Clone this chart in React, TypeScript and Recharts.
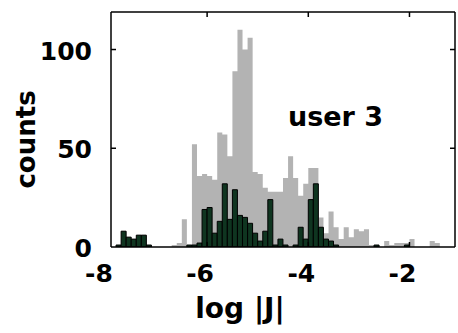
import React from "react"
import { ComposedChart, Area, Bar, XAxis, YAxis, Label } from "recharts"

// histogram bins of log|J|, width 0.1, given by their centres
const binCenters = [
  -7.85, -7.75, -7.65, -7.55, -7.45, -7.35, -7.25, -7.15, -7.05, -6.95,
  -6.85, -6.75, -6.65, -6.55, -6.45, -6.35, -6.25, -6.15, -6.05, -5.95,
  -5.85, -5.75, -5.65, -5.55, -5.45, -5.35, -5.25, -5.15, -5.05, -4.95,
  -4.85, -4.75, -4.65, -4.55, -4.45, -4.35, -4.25, -4.15, -4.05, -3.95,
  -3.85, -3.75, -3.65, -3.55, -3.45, -3.35, -3.25, -3.15, -3.05, -2.95,
  -2.85, -2.75, -2.65, -2.55, -2.45, -2.35, -2.25, -2.15, -2.05, -1.95,
  -1.85, -1.75, -1.65, -1.55, -1.45, -1.35,
]

// all pairs (light gray)
const allCounts = [
  0, 1, 8, 5, 4, 6, 6, 1, 0, 0,
  0, 0, 1, 2, 14, 1, 52, 36, 37, 36,
  34, 58, 57, 46, 89, 110, 100, 106, 38, 37,
  30, 28, 28, 28, 35, 46, 35, 26, 32, 40,
  40, 15, 7, 18, 10, 4, 10, 5, 9, 8,
  9, 1, 0, 0, 3, 1, 2, 2, 2, 4,
  0, 0, 0, 3, 2, 0,
]

// user 3 (dark green)
const userCounts = [
  0, 1, 8, 5, 4, 6, 6, 1, 0, 0,
  0, 0, 0, 0, 0, 1, 1, 2, 19, 20,
  7, 13, 32, 14, 29, 16, 15, 12, 7, 3,
  8, 24, 1, 4, 1, 0, 1, 10, 4, 24,
  32, 10, 4, 3, 1, 0, 0, 0, 0, 0,
  0, 0, 1, 0, 0, 0, 0, 0, 1, 0,
  0, 0, 0, 0, 0, 0,
]

const xTicks = [-8, -6, -4, -2]
const yTicks = [0, 50, 100]
const X_DOMAIN = [-7.9, -1.1]
const Y_DOMAIN = [0, 119]

const rows = binCenters.map((x, i) => ({ x, all: allCounts[i], user: userCounts[i] }))

const FONT = "'DejaVu Sans', 'Liberation Sans', sans-serif"

const BottomTick = ({ x, y, payload }: any) => (
  <g>
    {payload.value > X_DOMAIN[0] && (
      <line x1={x} x2={x} y1={y} y2={y - 5} stroke="#000" strokeWidth={1.5} />
    )}
    <text x={x - 7} y={y + 35} textAnchor="middle" fontFamily={FONT} fontWeight="bold" fontSize={25} fill="#000">
      {payload.value}
    </text>
  </g>
)

const TopTick = ({ x, y }: any) => (
  <line x1={x} x2={x} y1={y} y2={y + 5} stroke="#000" strokeWidth={1.5} />
)

const LeftTick = ({ x, y, payload }: any) => (
  <g>
    {payload.value > 0 && <line x1={x} x2={x + 5} y1={y} y2={y} stroke="#000" strokeWidth={1.5} />}
    <text x={x - 19} y={y + 10} textAnchor="end" fontFamily={FONT} fontWeight="bold" fontSize={25} fill="#000">
      {payload.value}
    </text>
  </g>
)

const RightTick = ({ x, y, payload }: any) =>
  payload.value > 0 ? <line x1={x} x2={x - 5} y1={y} y2={y} stroke="#000" strokeWidth={1.5} /> : null

const frame = { stroke: "#000", strokeWidth: 1.5 }

export default function App() {
  return (
    <div style={{ position: "relative", width: 458, height: 333, background: "#fff" }}>
      <style>{`body { margin: 0; }`}</style>
      <ComposedChart
        width={458}
        height={333}
        data={rows}
        margin={{ top: 0, right: 0, bottom: 0, left: 0 }}
        barCategoryGap={0}
        barGap={0}
      >
        <XAxis
          xAxisId="bottom"
          dataKey="x"
          type="number"
          domain={X_DOMAIN}
          allowDataOverflow
          ticks={xTicks}
          interval={0}
          height={86}
          tickSize={0}
          tickMargin={0}
          tickLine={false}
          axisLine={frame}
          tick={<BottomTick />}
        >
          <Label
            value="log |J|"
            position="insideBottom"
            offset={15}
            dx={-43}
            style={{ fontFamily: FONT, fontWeight: "bold", fontSize: 28, fill: "#000" }}
          />
        </XAxis>
        <XAxis
          xAxisId="top"
          orientation="top"
          dataKey="x"
          type="number"
          domain={X_DOMAIN}
          allowDataOverflow
          ticks={[-6, -4, -2]}
          interval={0}
          height={12}
          tickSize={0}
          tickMargin={0}
          tickLine={false}
          axisLine={frame}
          tick={<TopTick />}
        />
        <YAxis
          yAxisId="left"
          type="number"
          domain={Y_DOMAIN}
          allowDataOverflow
          ticks={yTicks}
          interval={0}
          width={111}
          tickSize={0}
          tickMargin={0}
          tickLine={false}
          axisLine={frame}
          tick={<LeftTick />}
        >
          <Label
            value="counts"
            angle={-90}
            position="center"
            dx={-30}
            dy={10}
            style={{ fontFamily: FONT, fontWeight: "bold", fontSize: 26, fill: "#000" }}
          />
        </YAxis>
        <YAxis
          yAxisId="right"
          orientation="right"
          type="number"
          domain={Y_DOMAIN}
          allowDataOverflow
          ticks={yTicks}
          interval={0}
          width={3}
          tickSize={0}
          tickMargin={0}
          tickLine={false}
          axisLine={frame}
          tick={<RightTick />}
        />
        <Area
          xAxisId="bottom"
          yAxisId="left"
          type="step"
          dataKey="all"
          fill="#b3b3b3"
          fillOpacity={1}
          stroke="none"
          baseValue={0}
          dot={false}
          activeDot={false}
          isAnimationActive={false}
        />
        <Bar
          xAxisId="top"
          yAxisId="right"
          dataKey="user"
          fill="#0f3520"
          stroke="#000"
          strokeWidth={1}
          isAnimationActive={false}
        />
      </ComposedChart>
      <div
        style={{
          position: "absolute",
          left: 288,
          top: 103,
          fontFamily: FONT,
          fontWeight: "bold",
          fontSize: 27,
          lineHeight: 1,
          color: "#000",
          whiteSpace: "nowrap",
        }}
      >
        user 3
      </div>
    </div>
  )
}
